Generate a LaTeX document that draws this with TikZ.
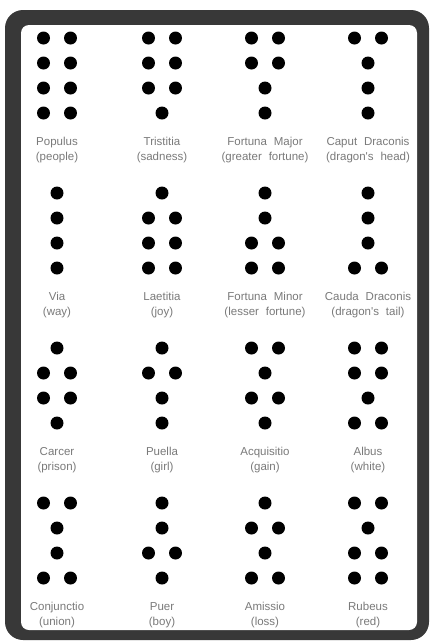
\documentclass[tikz,border=0pt]{standalone}
\usepackage{fontspec}
\newfontfamily\geofont{Liberation Sans}
\newcommand\geotxt{\geofont\fontsize{11.5}{15}\selectfont\spaceskip=0.6em plus 0.2em\relax}
\usepackage{tikz}

\begin{document}
\begin{tikzpicture}[x=1pt,y=-1pt,
  dot/.style={circle, fill=black, inner sep=0pt, minimum size=13pt},
  lbl/.style={text=black!52, font=\geotxt, align=center, inner sep=0pt}]
\useasboundingbox (0,0) rectangle (430,641);
% frame
\fill[black!78, rounded corners=18pt] (5,10) rectangle (429,640);
\fill[white, rounded corners=8pt] (21,25) rectangle (417,630);
% figures: name/meaning/x/y/rows (1 = one dot, 2 = two dots)
\foreach \nm/\gl/\cx/\cy/\a/\b/\c/\d [count=\i] in {
  Populus/people/57/38/2/2/2/2,
  Tristitia/sadness/162/38/2/2/2/1,
  Fortuna Major/greater fortune/265/38/2/2/1/1,
  Caput Draconis/dragon's head/368/38/2/1/1/1,
  Via/way/57/193/1/1/1/1,
  Laetitia/joy/162/193/1/2/2/2,
  Fortuna Minor/lesser fortune/265/193/1/1/2/2,
  Cauda Draconis/dragon's tail/368/193/1/1/1/2,
  Carcer/prison/57/348/1/2/2/1,
  Puella/girl/162/348/1/2/1/1,
  Acquisitio/gain/265/348/2/1/2/1,
  Albus/white/368/348/2/2/1/2,
  Conjunctio/union/57/503/2/1/1/2,
  Puer/boy/162/503/1/1/2/1,
  Amissio/loss/265/503/1/2/1/2,
  Rubeus/red/368/503/2/1/2/2}{
  \foreach \n [count=\k from 0] in {\a,\b,\c,\d}{
    \ifnum\n=1\relax
      \node[dot] (f\i-\k) at (\cx,\cy+25*\k) {};
    \else
      \node[dot] (f\i-\k-l) at (\cx-13.5,\cy+25*\k) {};
      \node[dot] (f\i-\k-r) at (\cx+13.5,\cy+25*\k) {};
    \fi
  }
  \node[lbl, anchor=north] (n\i) at (\cx,\cy+99) {\nm\\(\gl)};
}
\end{tikzpicture}
\end{document}
